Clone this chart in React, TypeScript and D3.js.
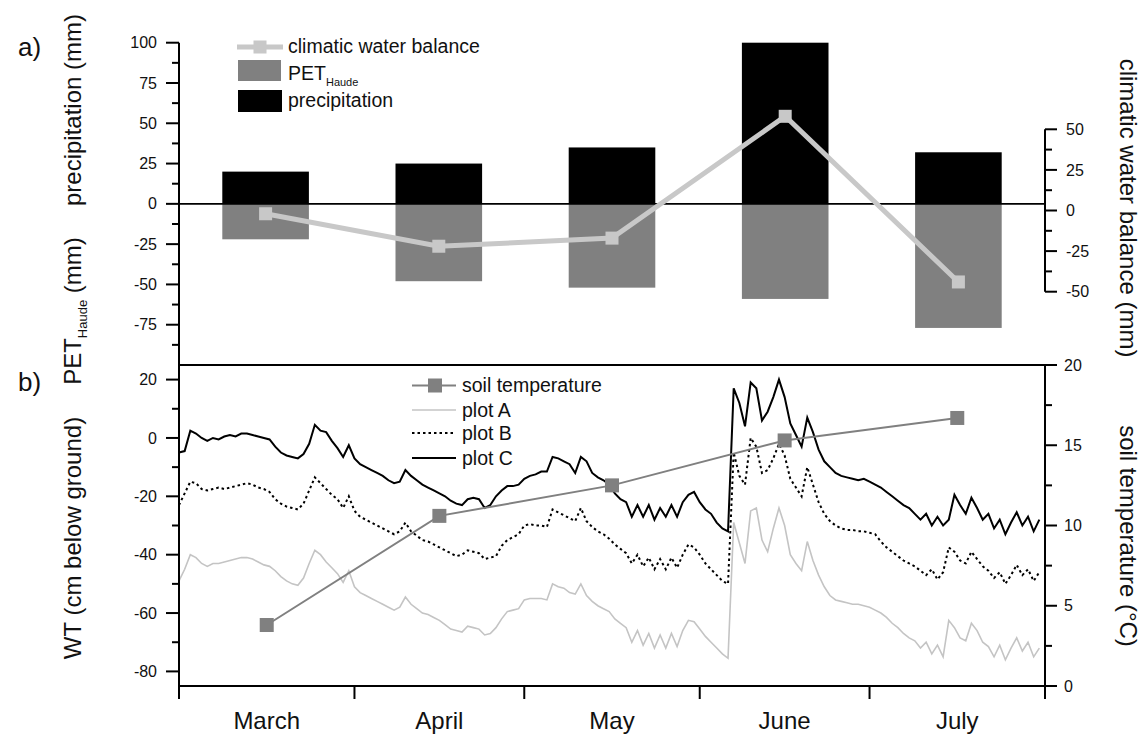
import React from 'react';
import * as d3 from 'd3';

// ---------- data ----------
const months = ['March', 'April', 'May', 'June', 'July'];
const precipitation = [20, 25, 35, 117, 32];
const petHaude = [22, 48, 52, 59, 77];
const climaticWaterBalance = [-2, -22, -17, 58, -44];

const soilTempDates = ['2012-03-16T12:00:00Z', '2012-04-16T00:00:00Z', '2012-05-16T12:00:00Z', '2012-06-16T00:00:00Z', '2012-07-16T12:00:00Z'];
const soilTemperature = [3.8, 10.6, 12.5, 15.3, 16.7];

const wtStart = '2012-03-01T00:00:00Z';
const wtEnd = '2012-08-01T00:00:00Z';

const plotC = [
  -5, -4.5, 2.5, 1.5, 0, -1, 0, -0.5, 0.5, 1, 0.5, 1.5, 1.5, 1, 0.5, 0, -0.5, -3, -5, -6,
  -6.5, -7, -5.5, -2, 4.5, 2.5, 2, -1, -3.5, -6.5, -2.5, -7, -9, -10, -11, -12, -13, -14.5, -15.5, -15,
  -11, -13, -14.5, -16, -17, -18, -19, -20, -21.5, -22.5, -23, -21, -20.5, -21, -24, -23, -20, -18, -16.5, -16.5,
  -16, -14, -13, -12.5, -11.5, -11.5, -6.5, -7, -8, -9, -12, -6.5, -8, -12, -13.5, -14.5, -16, -19, -21, -22,
  -27, -23, -27, -23, -28, -24, -27, -23, -27, -22, -19.5, -18.5, -22, -24.5, -26, -29, -31, -32, 17, 12,
  4, 19, 17, 6, 9, 14, 20, 14, 5, 1, -3, 7, 2, -4, -8, -10, -12, -13, -13.5, -14,
  -14.5, -14, -15, -16, -17, -18.5, -20, -21.5, -23, -24, -26, -28, -26, -30, -27, -30, -28, -19.5, -23, -26,
  -20.5, -24, -28, -26, -31, -28, -33, -29, -25.5, -30, -27, -32, -28,
];

const plotB = [
  -23, -19, -15, -15.5, -17.5, -18, -17.5, -17, -17.5, -17, -16.5, -16, -15.5, -16, -17, -17.5, -18.5, -21, -22.5, -23.5,
  -24, -24.5, -22.5, -18, -13.5, -15.5, -17.5, -19.5, -21, -24, -20, -25, -27, -28, -29, -30, -31, -32, -33, -32,
  -29, -32, -33.5, -35, -35.5, -36.5, -37.5, -38.5, -39.5, -40.5, -40, -38.5, -39, -39.5, -41.5, -41, -40.5, -37, -35, -34,
  -33, -30, -29.5, -30, -30, -30.5, -24.5, -25.5, -26.5, -27.5, -28.5, -24, -28.5, -30.5, -32, -33, -34.5, -36.5, -38, -39.5,
  -43, -40, -44, -41, -45, -41.5, -45, -41, -44.5, -40, -36.5, -37.5, -40, -43, -45, -47, -49, -50, -5, -13,
  -16, 0, -3, -12, -11, -7, -2, -6, -14, -17, -20, -10, -16, -22, -26, -28.5, -30, -31, -31.5, -31.5,
  -32, -32, -32.5, -33, -35.5, -37.5, -39, -40.5, -42, -43, -44, -45.5, -47, -45, -48.5, -46, -37.5, -39, -42, -43,
  -39, -41.5, -44, -45.5, -48, -46, -50, -47, -43.5, -47, -45, -49, -46,
];

const plotA = [
  -49, -45, -40, -41, -43, -44, -43, -43, -42.5, -42, -41.5, -41, -41, -41.5, -42.5, -43.5, -44, -45.5, -47.5, -49,
  -50, -50.5, -48, -43, -38.5, -40, -42.5, -44.5, -46.5, -49.5, -45.5, -51, -53, -54, -55, -56, -57, -58, -59, -58,
  -54.5, -57, -58.5, -60, -60.5, -61.5, -62.5, -64, -65.5, -66, -66.5, -64.5, -65, -65.5, -67.5, -67, -65, -62, -59.5, -59,
  -58.5, -55.5, -55, -55, -55, -55.5, -50, -51, -51.5, -53, -53.5, -50, -54, -56, -57.5, -58.5, -59.5, -62, -63.5, -65,
  -70, -66, -71, -67, -72, -67.5, -72, -67, -71.5, -66, -62.5, -63, -65.5, -68, -70, -72, -74, -75.5, -29, -36,
  -43, -25, -24, -35, -39, -31, -24, -30, -40, -43, -45.5, -35.5, -42, -47, -51, -54, -55.5, -56, -56.5, -57,
  -57, -57.5, -58, -59, -60, -61.5, -63.5, -65, -67, -68.5, -69.5, -72, -70, -74, -71, -75, -62.5, -65, -68.5, -69.5,
  -63.5, -66, -70, -71.5, -75, -71, -76, -72, -68.5, -73, -70, -75, -72,
];

const topLeftMajor = [100, 75, 50, 25, 0, -25, -50, -75];
const topLeftMinor = [87.5, 62.5, 37.5, 12.5, -12.5, -37.5, -62.5, -87.5];
const topRightMajor = [50, 25, 0, -25, -50];
const topRightMinor = [37.5, 12.5, -12.5, -37.5];
const botLeftMajor = [20, 0, -20, -40, -60, -80];
const botLeftMinor = [10, -10, -30, -50, -70];
const botRightMajor = [0, 5, 10, 15, 20];
const botRightMinor = [2.5, 7.5, 12.5, 17.5];

// ---------- layout ----------
const W = 1143, H = 734;
const X0 = 179, X1 = 1045;
const TOP_Y0 = 42.7, TOP_Y1 = 365;
const BOT_Y0 = 365, BOT_Y1 = 686;
const FONT = '"Liberation Sans", Arial, sans-serif';
const C_PET = '#808080';
const C_CWB = '#c8c8c8';
const C_TEMP = '#808080';
const C_A = '#c4c4c4';

export default function App() {
  const xBand = d3.scaleBand<string>().domain(months).range([X0, X1]).paddingInner(0.5).paddingOuter(0.25);
  const yTop = d3.scaleLinear().domain([-100, 100]).range([TOP_Y1, TOP_Y0]).clamp(true);
  const yCwb = d3.scaleLinear().domain([-50, 50]).range([291.7, 129.3]);

  const xTime = d3.scaleUtc().domain([new Date(wtStart), new Date(wtEnd)]).range([X0, X1]);
  const yWT = d3.scaleLinear().domain([-85, 25]).range([BOT_Y1, BOT_Y0]);
  const yTemp = d3.scaleLinear().domain([0, 20]).range([BOT_Y1, BOT_Y0]);

  const start = new Date(wtStart);
  const wtLine = d3.line<number>()
    .x((_, i) => xTime(d3.utcDay.offset(start, i)))
    .y((v) => yWT(v));

  const cwbLine = d3.line<number>()
    .x((_, i) => (xBand(months[i]) as number) + xBand.bandwidth() / 2)
    .y((v) => yCwb(v));

  const tempLine = d3.line<number>()
    .x((_, i) => xTime(new Date(soilTempDates[i])))
    .y((v) => yTemp(v));

  const monthTicks = xTime.ticks(d3.utcMonth.every(1) as any);
  const monthMid = months.map((_, i) => {
    const a = d3.utcMonth.offset(start, i);
    const b = d3.utcMonth.offset(start, i + 1);
    return (xTime(a) + xTime(b)) / 2;
  });

  const ax = { stroke: '#000', strokeWidth: 2, fill: 'none' } as const;
  const tickTxt = { fontFamily: FONT, fontSize: 16, fill: '#111' } as const;
  const titleTxt = { fontFamily: FONT, fontSize: 24, fill: '#111' } as const;
  const legTxt = { fontFamily: FONT, fontSize: 19.5, fill: '#111' } as const;

  return (
    <svg width={W} height={H} style={{ position: 'absolute', left: 0, top: 0, background: '#fff' }}>
      <rect x={0} y={0} width={W} height={H} fill="#fff" />

      {/* ---------- top panel ---------- */}
      {months.map((m, i) => (
        <g key={m}>
          <rect x={xBand(m)} width={xBand.bandwidth()} y={yTop(precipitation[i])} height={yTop(0) - yTop(precipitation[i])} fill="#000" />
          <rect x={xBand(m)} width={xBand.bandwidth()} y={yTop(0)} height={yTop(-petHaude[i]) - yTop(0)} fill={C_PET} />
        </g>
      ))}
      <line x1={X0} x2={X1} y1={yTop(0)} y2={yTop(0)} stroke="#000" strokeWidth={1.6} />
      <path d={cwbLine(climaticWaterBalance) || ''} fill="none" stroke={C_CWB} strokeWidth={5} />
      {climaticWaterBalance.map((v, i) => (
        <rect key={i} x={(xBand(months[i]) as number) + xBand.bandwidth() / 2 - 6.5} y={yCwb(v) - 6.5} width={13} height={13} fill={C_CWB} />
      ))}

      {/* top left axis ticks */}
      {topLeftMajor.map((t) => (
        <g key={'tlM' + t}>
          <line x1={X0 - 13} x2={X0} y1={yTop(t)} y2={yTop(t)} stroke="#000" strokeWidth={2} />
          <text x={157} y={yTop(t)} dy="0.35em" textAnchor="end" style={tickTxt}>{t}</text>
        </g>
      ))}
      {topLeftMinor.map((t) => (
        <line key={'tlm' + t} x1={X0 - 7} x2={X0} y1={yTop(t)} y2={yTop(t)} stroke="#000" strokeWidth={2} />
      ))}

      {/* top right axis */}
      <line x1={X1} x2={X1} y1={yCwb(50)} y2={yCwb(-50)} style={ax} />
      {topRightMajor.map((t) => (
        <g key={'trM' + t}>
          <line x1={X1} x2={X1 + 12} y1={yCwb(t)} y2={yCwb(t)} stroke="#000" strokeWidth={2} />
          <text x={1066} y={yCwb(t)} dy="0.35em" textAnchor="start" style={tickTxt}>{t}</text>
        </g>
      ))}
      {topRightMinor.map((t) => (
        <line key={'trm' + t} x1={X1} x2={X1 + 7} y1={yCwb(t)} y2={yCwb(t)} stroke="#000" strokeWidth={2} />
      ))}

      {/* top legend */}
      <line x1={237} x2={283} y1={47} y2={47} stroke={C_CWB} strokeWidth={5} />
      <rect x={253.5} y={40.5} width={13} height={13} fill={C_CWB} />
      <text x={288} y={53} style={legTxt}>climatic water balance</text>
      <rect x={238} y={60} width={43} height={21} fill={C_PET} />
      <text x={288} y={80} style={legTxt}>PET<tspan fontSize={11} dy={6}>Haude</tspan></text>
      <rect x={238} y={90} width={44} height={22} fill="#000" />
      <text x={288} y={107} style={legTxt}>precipitation</text>

      {/* ---------- bottom panel ---------- */}
      <path d={wtLine(plotA) || ''} fill="none" stroke={C_A} strokeWidth={1.6} />
      <path d={wtLine(plotB) || ''} fill="none" stroke="#000" strokeWidth={2} strokeDasharray="2.5,3" />
      <path d={wtLine(plotC) || ''} fill="none" stroke="#000" strokeWidth={2} />
      <path d={tempLine(soilTemperature) || ''} fill="none" stroke={C_TEMP} strokeWidth={2} />
      {soilTemperature.map((v, i) => (
        <rect key={i} x={xTime(new Date(soilTempDates[i])) - 7} y={yTemp(v) - 7} width={14} height={14} fill={C_TEMP} />
      ))}

      {/* frame lines */}
      <line x1={X0} x2={X1} y1={BOT_Y0} y2={BOT_Y0} style={ax} />
      <line x1={X0} x2={X1} y1={BOT_Y1} y2={BOT_Y1} style={ax} />
      <line x1={X0} x2={X0} y1={TOP_Y0} y2={BOT_Y1} style={ax} />
      <line x1={X1} x2={X1} y1={BOT_Y0} y2={BOT_Y1} style={ax} />

      {/* bottom left axis */}
      {botLeftMajor.map((t) => (
        <g key={'blM' + t}>
          <line x1={X0 - 13} x2={X0} y1={yWT(t)} y2={yWT(t)} stroke="#000" strokeWidth={2} />
          <text x={157} y={yWT(t)} dy="0.35em" textAnchor="end" style={tickTxt}>{t}</text>
        </g>
      ))}
      {botLeftMinor.map((t) => (
        <line key={'blm' + t} x1={X0 - 7} x2={X0} y1={yWT(t)} y2={yWT(t)} stroke="#000" strokeWidth={2} />
      ))}

      {/* bottom right axis */}
      {botRightMajor.map((t) => (
        <g key={'brM' + t}>
          <line x1={X1} x2={X1 + 12} y1={yTemp(t)} y2={yTemp(t)} stroke="#000" strokeWidth={2} />
          <text x={1064} y={yTemp(t)} dy="0.35em" textAnchor="start" style={tickTxt}>{t}</text>
        </g>
      ))}
      {botRightMinor.map((t) => (
        <line key={'brm' + t} x1={X1} x2={X1 + 7} y1={yTemp(t)} y2={yTemp(t)} stroke="#000" strokeWidth={2} />
      ))}

      {/* x axis */}
      {monthTicks.map((d, i) => (
        <line key={'xt' + i} x1={xTime(d)} x2={xTime(d)} y1={BOT_Y1} y2={BOT_Y1 + 13} stroke="#000" strokeWidth={2} />
      ))}
      {months.map((m, i) => (
        <text key={'xl' + m} x={monthMid[i]} y={729} textAnchor="middle" style={titleTxt}>{m}</text>
      ))}

      {/* bottom legend */}
      <line x1={412} x2={456} y1={385.5} y2={385.5} stroke={C_TEMP} strokeWidth={2} />
      <rect x={428} y={378.5} width={14} height={14} fill={C_TEMP} />
      <text x={462} y={392} style={legTxt}>soil temperature</text>
      <line x1={412} x2={456} y1={410} y2={410} stroke={C_A} strokeWidth={1.6} />
      <text x={462} y={417} style={legTxt}>plot A</text>
      <line x1={412} x2={456} y1={433} y2={433} stroke="#000" strokeWidth={2} strokeDasharray="2.5,3" />
      <text x={462} y={440} style={legTxt}>plot B</text>
      <line x1={412} x2={456} y1={458} y2={458} stroke="#000" strokeWidth={2} />
      <text x={462} y={465} style={legTxt}>plot C</text>

      {/* panel letters */}
      <text x={18} y={56} style={{ fontFamily: FONT, fontSize: 26, fill: '#111' }}>a)</text>
      <text x={18} y={391} style={{ fontFamily: FONT, fontSize: 26, fill: '#111' }}>b)</text>

      {/* axis titles */}
      <text transform="translate(81,110) rotate(-90)" textAnchor="middle" style={titleTxt}>precipitation (mm)</text>
      <text transform="translate(81,311) rotate(-90)" textAnchor="middle" style={titleTxt}>
        PET<tspan fontSize={13} dy={6}>Haude</tspan><tspan dy={-6}> (mm)</tspan>
      </text>
      <text transform="translate(81,538) rotate(-90)" textAnchor="middle" style={titleTxt}>WT (cm below ground)</text>
      <text transform="translate(1120,208) rotate(90)" textAnchor="middle" style={titleTxt}>climatic water balance (mm)</text>
      <text transform="translate(1120,536) rotate(90)" textAnchor="middle" style={titleTxt}>soil temperature (°C)</text>
    </svg>
  );
}
